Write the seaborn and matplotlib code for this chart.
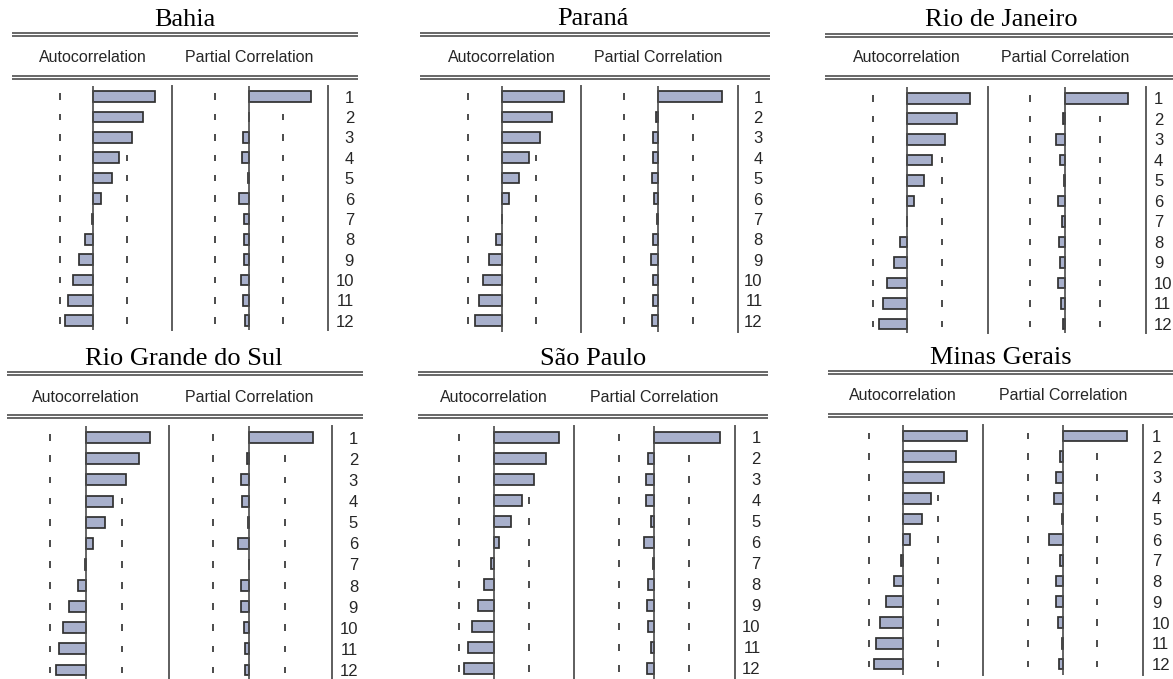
import matplotlib
matplotlib.use("Agg")
import matplotlib.pyplot as plt
import seaborn as sns
import numpy as np
import pandas as pd

# ---------------------------------------------------------------------------
# Correlogram values (lags 1..12) for each state
# ---------------------------------------------------------------------------
lags = list(range(1, 13))
states = ["Bahia", "Paraná", "Rio de Janeiro",
          "Rio Grande do Sul", "São Paulo", "Minas Gerais"]

acf_bahia = [0.786, 0.628, 0.497, 0.331, 0.233, 0.098, -0.022, -0.106, -0.187, -0.255, -0.327, -0.361]
pacf_bahia = [0.786, -0.004, -0.076, -0.089, -0.013, -0.127, -0.068, -0.073, -0.064, -0.102, -0.076, -0.060]

acf_parana = [0.790, 0.634, 0.483, 0.344, 0.206, 0.088, 0.000, -0.084, -0.168, -0.240, -0.294, -0.344]
pacf_parana = [0.790, -0.034, -0.063, -0.063, -0.084, -0.050, -0.013, -0.063, -0.097, -0.063, -0.063, -0.084]

acf_rio = [0.777, 0.623, 0.467, 0.313, 0.211, 0.083, 0.000, -0.090, -0.165, -0.257, -0.306, -0.347]
pacf_rio = [0.777, -0.021, -0.112, -0.062, -0.012, -0.090, -0.041, -0.071, -0.062, -0.090, -0.053, -0.029]

acf_rgs = [0.773, 0.640, 0.483, 0.330, 0.233, 0.088, -0.012, -0.093, -0.202, -0.274, -0.326, -0.362]
pacf_rgs = [0.773, -0.021, -0.100, -0.081, -0.016, -0.136, 0.000, -0.100, -0.100, -0.060, -0.048, -0.048]

acf_sp = [0.809, 0.653, 0.500, 0.343, 0.207, 0.066, -0.037, -0.120, -0.202, -0.276, -0.326, -0.368]
pacf_sp = [0.809, -0.071, -0.103, -0.103, -0.037, -0.124, -0.016, -0.071, -0.090, -0.071, -0.037, -0.090]

acf_mg = [0.797, 0.656, 0.507, 0.345, 0.228, 0.083, -0.034, -0.116, -0.220, -0.290, -0.340, -0.365]
pacf_mg = [0.797, -0.034, -0.083, -0.103, -0.012, -0.171, -0.034, -0.083, -0.083, -0.062, -0.012, -0.050]

acf_values = [acf_bahia, acf_parana, acf_rio, acf_rgs, acf_sp, acf_mg]
pacf_values = [pacf_bahia, pacf_parana, pacf_rio, pacf_rgs, pacf_sp, pacf_mg]

# approximate 95% band, +/- 2/sqrt(T)
conf_bound = 0.43

# ---------------------------------------------------------------------------
# Panel geometry, in pixels of the 1173 x 679 canvas
# ---------------------------------------------------------------------------
layout = [
    dict(title_x=185, title_base=26, rule_x0=12, rule_x1=358, rule1_y=33, rule2_y=75.5,
         head_base=61.5, acf0=93.3, sep1=171.7, pacf0=249.3, sep2=328,
         row1=96.7, row12=320.7, ax_top=86, ax_bot=330, lab_x=354, lab_ha="right"),
    dict(title_x=593, title_base=25, rule_x0=420, rule_x1=770, rule1_y=33, rule2_y=76,
         head_base=62, acf0=502.3, sep1=581, pacf0=658.3, sep2=738.3,
         row1=96.7, row12=320.7, ax_top=86, ax_bot=332, lab_x=762.7, lab_ha="right"),
    dict(title_x=1001.7, title_base=26, rule_x0=825, rule_x1=1173, rule1_y=34, rule2_y=76,
         head_base=62, acf0=907.3, sep1=987.7, pacf0=1065, sep2=1146,
         row1=98.3, row12=324, ax_top=87, ax_bot=333, lab_x=1154, lab_ha="left"),
    dict(title_x=184, title_base=365, rule_x0=7, rule_x1=363, rule1_y=371.5, rule2_y=414.5,
         head_base=402, acf0=86, sep1=169, pacf0=249, sep2=331.7,
         row1=437.7, row12=670, ax_top=426, ax_bot=679, lab_x=358, lab_ha="right"),
    dict(title_x=593.3, title_base=365, rule_x0=418, rule_x1=768, rule1_y=371.5, rule2_y=415,
         head_base=402, acf0=494, sep1=574.3, pacf0=654, sep2=735,
         row1=437.3, row12=668.3, ax_top=426, ax_bot=679, lab_x=760.7, lab_ha="right"),
    dict(title_x=1000.8, title_base=364, rule_x0=828, rule_x1=1173, rule1_y=370.5, rule2_y=413.5,
         head_base=400, acf0=903.3, sep1=983.3, pacf0=1062.7, sep2=1143.3,
         row1=436, row12=664, ax_top=425, ax_bot=675, lab_x=1152, lab_ha="left"),
]

BAR_FILL = "#A8B0CC"
BAR_EDGE = "#303030"
AXIS_GREY = "#4a4a4a"
DASH_GREY = "#444444"
SEP_GREY = "#5e5e5e"
RULE_GREY = "#555555"
TEXT_DARK = "#262626"

sns.set_theme(style="white")
plt.rcParams["font.family"] = ["Liberation Sans", "DejaVu Sans"]

W, H = 1173, 679
fig = plt.figure(figsize=(W / 100, H / 100), dpi=100)
fig.patch.set_facecolor("white")

# full-canvas layer for titles, headers and double rules (pixel units)
bg = fig.add_axes([0, 0, 1, 1], zorder=0)
bg.set_xlim(0, W)
bg.set_ylim(H, 0)
bg.axis("off")

PX_TO_PT = 72 / 100


def px_axes(x0, x1, y0, y1):
    ax = fig.add_axes([x0 / W, 1 - y1 / H, (x1 - x0) / W, (y1 - y0) / H], zorder=1)
    ax.set_facecolor("none")
    return ax


def correlogram_column(ax, values, g):
    df = pd.DataFrame({"lag": [str(l) for l in lags], "r": values})
    pos = np.arange(len(lags))
    # dashed band: one short stroke per lag row, behind the bars
    for b in (-conf_bound, conf_bound):
        ax.vlines(np.full(len(lags), b), pos - 0.16, pos + 0.16,
                  colors=DASH_GREY, linewidth=1.35, zorder=0.5)
    sns.barplot(data=df, x="r", y="lag", orient="h", ax=ax, color=BAR_FILL,
                saturation=1, edgecolor=BAR_EDGE, linewidth=1.25, width=0.52,
                errorbar=None, zorder=2)
    ax.axvline(0, color=AXIS_GREY, linewidth=1.2, zorder=3)
    step = (g["row12"] - g["row1"]) / (len(lags) - 1)
    ax.set_ylim((g["ax_bot"] - g["row1"]) / step, (g["ax_top"] - g["row1"]) / step)
    ax.set_xlim(-1, 1)
    ax.set_xticks([])
    ax.set_xlabel("")
    ax.set_ylabel("")
    for side in ("left", "top", "bottom"):
        ax.spines[side].set_visible(False)
    ax.spines["right"].set_color(SEP_GREY)
    ax.spines["right"].set_linewidth(1.4)
    ax.grid(False)


for name, acf, pacf, g in zip(states, acf_values, pacf_values, layout):
    # title and table header
    bg.text(g["title_x"], g["title_base"], name, ha="center", va="baseline",
            fontsize=19, family=["Liberation Serif", "DejaVu Serif"], color="black")
    for y in (g["rule1_y"], g["rule2_y"]):
        bg.hlines([y, y + 3], g["rule_x0"], g["rule_x1"], colors=RULE_GREY, linewidth=1.25)
    bg.text(g["acf0"], g["head_base"], "Autocorrelation", ha="center", va="baseline",
            fontsize=11.5, color=TEXT_DARK)
    bg.text(g["pacf0"], g["head_base"], "Partial Correlation", ha="center", va="baseline",
            fontsize=11.5, color=TEXT_DARK)

    # autocorrelation column
    k_a = g["sep1"] - g["acf0"]
    ax_a = px_axes(g["acf0"] - k_a, g["sep1"], g["ax_top"], g["ax_bot"])
    correlogram_column(ax_a, acf, g)
    ax_a.tick_params(axis="y", left=False, right=False, labelleft=False, labelright=False,
                     length=0)

    # partial correlation column with lag numbers on the right
    k_p = g["sep2"] - g["pacf0"]
    ax_p = px_axes(g["pacf0"] - k_p, g["sep2"], g["ax_top"], g["ax_bot"])
    correlogram_column(ax_p, pacf, g)
    ax_p.tick_params(axis="y", left=False, right=False, labelleft=False, labelright=True,
                     length=0, pad=(g["lab_x"] - g["sep2"]) * PX_TO_PT, labelsize=12,
                     labelcolor=TEXT_DARK)
    for lbl in ax_p.get_yticklabels():
        lbl.set_horizontalalignment(g["lab_ha"])

fig.savefig("out.png", dpi=100, facecolor="white")
